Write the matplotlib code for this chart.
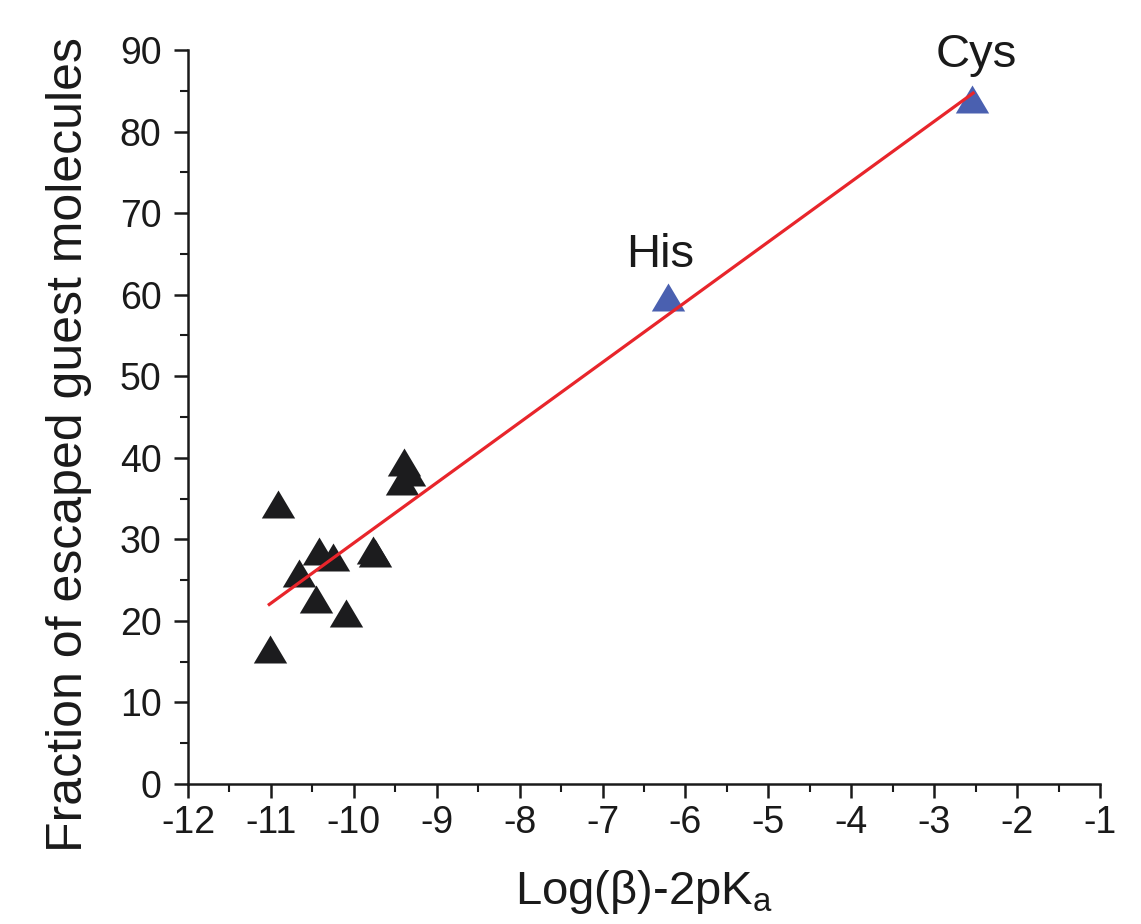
import matplotlib
matplotlib.use("Agg")
import matplotlib.pyplot as plt
from matplotlib.ticker import MultipleLocator

plt.rcParams['font.family'] = ['Liberation Sans', 'DejaVu Sans']
plt.rcParams['mathtext.fontset'] = 'custom'
plt.rcParams['mathtext.rm'] = 'Liberation Sans'
plt.rcParams['axes.unicode_minus'] = False

# other guest molecules (black triangles)
other_x = [-11.01, -10.91, -10.66, -10.42, -10.46, -10.25, -10.10, -9.77, -9.75, -9.40, -9.42, -9.33]
other_y = [16.6, 34.3, 25.9, 28.6, 22.7, 27.8, 21.0, 28.7, 28.3, 39.5, 37.2, 38.3]

# labelled amino acids (blue triangles)
amino_names = ['His', 'Cys']
amino_x = [-6.21, -2.54]
amino_y = [59.7, 84.0]

# linear fit drawn through the data
fit_slope = 7.385
fit_intercept = 103.4
fit_x = [-11.02, -2.53]

x_ticks = list(range(-12, 0))
y_ticks = list(range(0, 91, 10))

tri = [(0, 0.84), (-1, -0.84), (1, -0.84)]

fig = plt.figure(figsize=(11.41, 9.24), dpi=100)
ax = fig.add_axes([188 / 1141, 1 - 784 / 924, 912 / 1141, 734 / 924])

ax.plot(other_x, other_y, linestyle='none', marker=tri, markersize=24,
        color='#1c1c1e', markeredgewidth=0, zorder=2, clip_on=False)
ax.plot(amino_x, amino_y, linestyle='none', marker=tri, markersize=24,
        color='#4a60b0', markeredgewidth=0, zorder=2, clip_on=False)

fit_y = [fit_slope * x + fit_intercept for x in fit_x]
ax.plot(fit_x, fit_y, color='#e8252b', linewidth=2.3, zorder=3)

offsets = {'His': (-5.5, 21.5), 'Cys': (3, 23)}
for name, x, y in zip(amino_names, amino_x, amino_y):
    ax.annotate(name, (x, y), xytext=offsets[name], textcoords='offset points',
                ha='center', va='baseline', fontsize=34, color='#1a1a1a',
                annotation_clip=False)

ax.set_xlim(-12, -1)
ax.set_ylim(0, 90)
ax.set_xticks(x_ticks)
ax.set_yticks(y_ticks)
ax.xaxis.set_minor_locator(MultipleLocator(0.5))
ax.yaxis.set_minor_locator(MultipleLocator(5))

for s in ['top', 'right']:
    ax.spines[s].set_visible(False)
for s in ['left', 'bottom']:
    ax.spines[s].set_linewidth(1.8)
    ax.spines[s].set_color('#1a1a1a')

ax.tick_params(which='major', direction='out', length=10, width=1.8,
               labelsize=27, colors='#1a1a1a')
ax.tick_params(which='minor', direction='out', length=6, width=1.5, colors='#1a1a1a')
ax.tick_params(axis='y', which='major', pad=9)
ax.tick_params(axis='x', which='major', pad=5)

ax.set_xlabel('Log(β)-2pK$_\\mathregular{a}$', fontsize=34, color='#1a1a1a')
ax.set_ylabel('Fraction of escaped guest molecules', fontsize=36, color='#1a1a1a')
ax.xaxis.set_label_coords(0.5, -0.115)
ax.yaxis.set_label_coords(-0.105, 0.462)

fig.savefig('out.png', dpi=100)
